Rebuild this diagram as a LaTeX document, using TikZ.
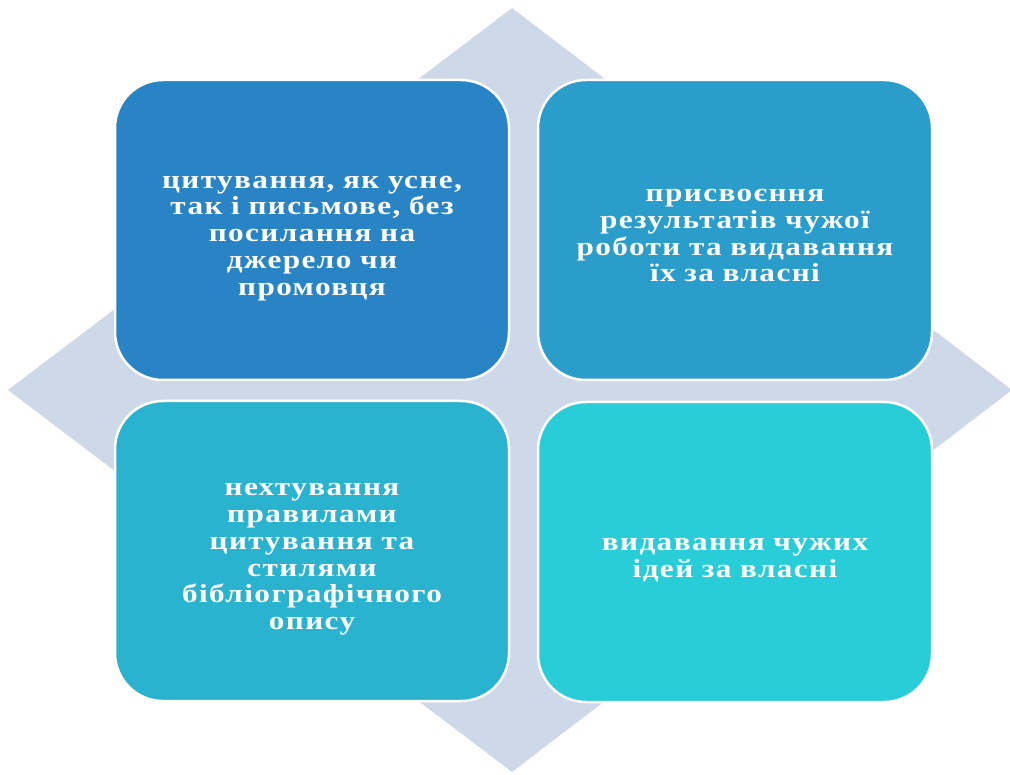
\documentclass[tikz,border=0pt]{standalone}
\usepackage{fontspec}
\setmainfont{Liberation Serif}
\newfontfamily\boxfont[FakeStretch=1.2,LetterSpace=5.5]{Liberation Serif Bold}
\usetikzlibrary{positioning}
\definecolor{diamondgray}{RGB}{205,216,233}
\definecolor{blueone}{RGB}{41,132,198}
\definecolor{bluetwo}{RGB}{42,157,203}
\definecolor{bluethree}{RGB}{42,179,207}
\definecolor{bluefour}{RGB}{41,205,216}
\newcommand{\cardtop}{\rule{0pt}{29pt}}
\newcommand{\cardbottom}{\rule[-5.6pt]{0pt}{5.6pt}}

\begin{document}
\begin{tikzpicture}[
  x=1pt, y=-1pt,
  card/.style={
    draw=white,
    line width=2.5pt,
    rounded corners=48pt,
    minimum width=394pt,
    minimum height=300pt,
    text width=370pt,
    align=center,
    text=white,
    font=\boxfont\fontsize{26}{26.8}\selectfont,
    execute at begin node=\cardtop,
    execute at end node=\cardbottom
  }
]
\useasboundingbox (0,0) rectangle (1010,775);

% Background diamond
\fill[diamondgray] (512,8) -- (1012,390) -- (512,772) -- (8,390) -- cycle;

% Top row
\node[card, fill=blueone] (cite) at (312,230) {цитування, як усне,\\так і письмове, без\\посилання на\\джерело чи\\промовця};
\node[card, fill=bluetwo] (own) at (735,230) {присвоєння\\результатів чужої\\роботи та видавання\\їх за власні};

% Bottom row
\node[card, fill=bluethree] (rules) at (312,551) {нехтування\\правилами\\цитування та\\стилями\\бібліографічного\\опису};
\node[card, fill=bluefour] (ideas) at (735,552) {видавання чужих\\ідей за власні};

\end{tikzpicture}
\end{document}
